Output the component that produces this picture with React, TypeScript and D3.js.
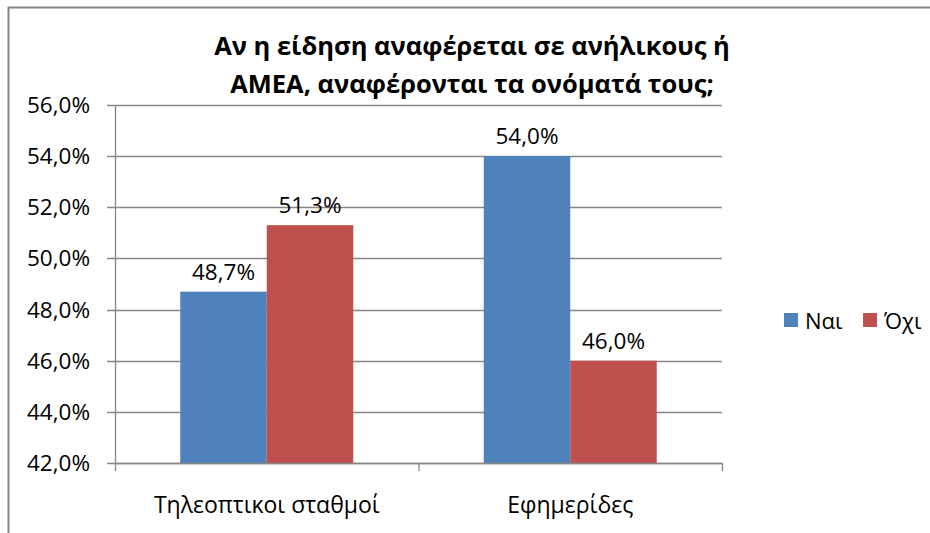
import React from 'react';
import * as d3 from 'd3';

const categories = ['Τηλεοπτικοι σταθμοί', 'Εφημερίδες'];
const seriesNames = ['Ναι', 'Όχι'];
const yesValues = [48.7, 54.0];
const noValues = [51.3, 46.0];
const yTicks = [42, 44, 46, 48, 50, 52, 54, 56];
const colors = ['#4F81BD', '#C0504D'];

const fmt = (v: number) => v.toFixed(1).replace('.', ',') + '%';

export default function App() {
  const width = 930;
  const height = 533;
  const left = 115, right = 722, top = 105, bottom = 463;
  const font = '"Open Sans", sans-serif';

  const x = d3.scaleBand().domain(categories).range([left, right]).paddingInner(0.43).paddingOuter(0.215);
  const inner = d3.scaleBand().domain(seriesNames).range([0, x.bandwidth()]);
  const y = d3.scaleLinear().domain([42, 56]).range([bottom, top]);
  const series = [yesValues, noValues];

  return (
    <svg width={width} height={height} style={{ position: 'absolute', left: 0, top: 0 }}>
      <rect x={0} y={0} width={width} height={height} fill="#fff" />
      <path d="M8.5,540 V7.5 H940" fill="none" stroke="#868686" strokeWidth={2} />
      <g fontFamily={font} fontWeight="bold" fontSize={25.5} textAnchor="middle" fill="#000">
        <text x={472} y={55}>Αν η είδηση αναφέρεται σε ανήλικους ή</text>
        <text x={472} y={93}>ΑΜΕΑ, αναφέρονται τα ονόματά τους;</text>
      </g>
      {yTicks.map(t => (
        <g key={t}>
          <line x1={left - 8} x2={right} y1={Math.round(y(t)) + 0.5} y2={Math.round(y(t)) + 0.5} stroke="#868686" strokeWidth={1.3} />
          <text x={90} y={y(t) + 8} textAnchor="end" fontFamily={font} fontSize={22.5}>{fmt(t)}</text>
        </g>
      ))}
      {series.map((vals, si) => vals.map((v, ci) => {
        const bx = x(categories[ci])! + inner(seriesNames[si])!;
        return (
          <g key={si + '-' + ci}>
            <rect x={bx} y={y(v)} width={inner.bandwidth()} height={bottom - y(v)} fill={colors[si]} />
            <text x={bx + inner.bandwidth() / 2} y={y(v) - 12} textAnchor="middle" fontFamily={font} fontSize={22.5}>{fmt(v)}</text>
          </g>
        );
      }))}
      <line x1={left + 0.5} x2={left + 0.5} y1={top} y2={bottom} stroke="#868686" strokeWidth={1.3} />
      <line x1={left} x2={right} y1={bottom + 0.5} y2={bottom + 0.5} stroke="#868686" strokeWidth={1.3} />
      {[left, (left + right) / 2, right].map((tx, i) => (
        <line key={i} x1={tx + 0.5} x2={tx + 0.5} y1={bottom} y2={bottom + 8} stroke="#868686" strokeWidth={1.3} />
      ))}
      {categories.map(c => (
        <text key={c} x={x(c)! + x.bandwidth() / 2} y={513} textAnchor="middle" fontFamily={font} fontSize={23}>{c}</text>
      ))}
      {seriesNames.map((s, i) => (
        <g key={s} transform={`translate(${784 + i * 79},313)`}>
          <rect width={14} height={14} fill={colors[i]} />
          <text x={21} y={16} fontFamily={font} fontSize={22}>{s}</text>
        </g>
      ))}
    </svg>
  );
}
